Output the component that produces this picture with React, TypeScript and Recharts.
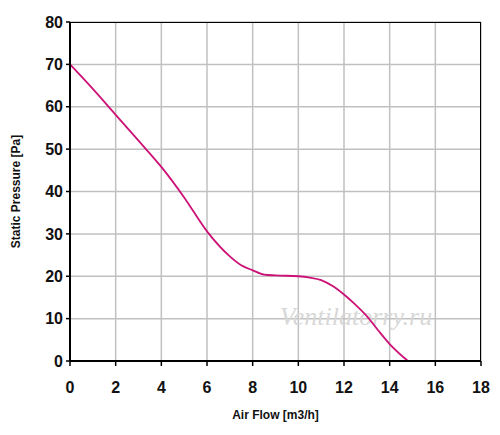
import { CartesianGrid, Line, LineChart, XAxis, YAxis } from 'recharts';

const airFlow = [0, 1, 2, 3, 4, 5, 6, 7, 7.5, 8, 8.5, 9, 10, 10.5, 11, 11.5, 12, 12.5, 13, 13.5, 14, 14.8];
const pressure = [70, 64.2, 58.1, 52, 45.8, 38.6, 30.6, 24.7, 22.6, 21.4, 20.4, 20.2, 20, 19.7, 19.1, 17.7, 15.7, 13.3, 10.6, 7.2, 4, 0];
const xTicks = [0, 2, 4, 6, 8, 10, 12, 14, 16, 18];
const yTicks = [0, 10, 20, 30, 40, 50, 60, 70, 80];

const data = airFlow.map((x, i) => ({ x, p: pressure[i] }));

const tickStyle = { fontFamily: 'Arial, "Liberation Sans", sans-serif', fontSize: 16, fontWeight: 'bold', fill: '#111' };
const labelStyle = { fontFamily: 'Arial, "Liberation Sans", sans-serif', fontSize: 12, fontWeight: 'bold', fill: '#111' };

export default function App() {
  return (
    <div style={{ position: 'absolute', left: 0, top: 0, width: 500, height: 435, background: '#fff' }}>
      <LineChart width={500} height={435} data={data} margin={{ top: 22, right: 19, bottom: 14, left: 0 }}>
        <CartesianGrid stroke="#c0c0c0" strokeWidth={1.5} />
        <XAxis
          dataKey="x"
          type="number"
          domain={[0, 18]}
          ticks={xTicks}
          height={60}
          tickSize={5}
          tickMargin={16}
          tick={tickStyle}
          axisLine={{ stroke: '#000', strokeWidth: 2 }}
          tickLine={{ stroke: '#000', strokeWidth: 1.5 }}
          label={{ value: 'Air Flow [m3/h]', position: 'insideBottom', offset: 2, style: labelStyle }}
        />
        <YAxis
          type="number"
          domain={[0, 80]}
          ticks={yTicks}
          width={70}
          tickSize={4}
          tickMargin={3}
          tick={tickStyle}
          axisLine={{ stroke: '#000', strokeWidth: 2 }}
          tickLine={{ stroke: '#000', strokeWidth: 1.5 }}
          label={{ value: 'Static Pressure [Pa]', angle: -90, position: 'insideLeft', offset: 16, style: { ...labelStyle, textAnchor: 'middle' } }}
        />
        <text
          x={356}
          y={325}
          textAnchor="middle"
          fontFamily='"Liberation Serif", "DejaVu Serif", serif'
          fontStyle="italic"
          fontSize={26}
          fill="#d8d8d8"
        >
          Ventilatorry.ru
        </text>
        <Line dataKey="p" type="monotone" stroke="#cc1177" strokeWidth={1.8} dot={false} isAnimationActive={false} />
      </LineChart>
      <div style={{ position: 'absolute', left: 70, top: 22, width: 411, height: 339, border: '1.5px solid #000', boxSizing: 'border-box', pointerEvents: 'none' }} />
    </div>
  );
}
